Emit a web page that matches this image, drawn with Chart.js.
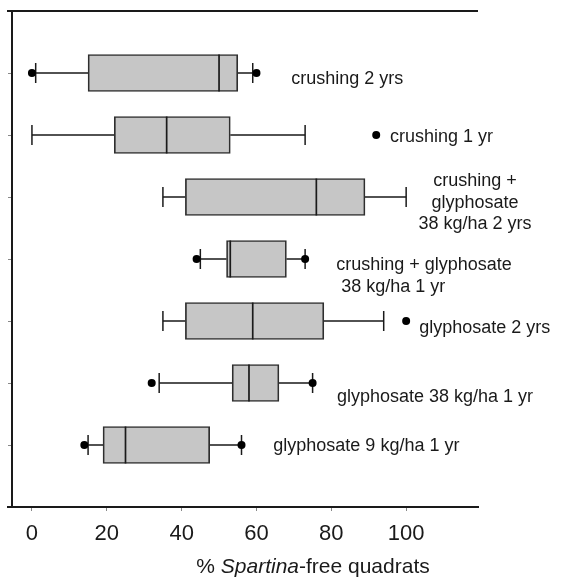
<!DOCTYPE html>
<html>
<head>
<meta charset="utf-8">
<script src="https://cdn.jsdelivr.net/npm/chart.js@4.4.1/dist/chart.umd.min.js"></script>
<style>
  html, body { margin: 0; padding: 0; background: #fff; }
  canvas { display: block; }
</style>
</head>
<body>
<canvas id="boxChart" width="570" height="580"></canvas>
<script>
// treatments, top to bottom (each entry = lines of the side label)
const treatments = [
  ['crushing 2 yrs'],
  ['crushing 1 yr'],
  ['crushing +', 'glyphosate', '38 kg/ha 2 yrs'],
  ['crushing + glyphosate', ' 38 kg/ha 1 yr'],
  ['glyphosate 2 yrs'],
  ['glyphosate 38 kg/ha 1 yr'],
  ['glyphosate 9 kg/ha 1 yr']
];

// % Spartina-free quadrats, five-number summary per treatment
const whiskerLow  = [1, 0, 35, 45, 35, 34, 15];
const quart1      = [15, 22, 41, 52, 41, 53.5, 19];
const medians     = [50, 36, 76, 53, 59, 58, 25];
const quart3      = [55, 53, 89, 68, 78, 66, 47.5];
const whiskerHigh = [59, 73, 100, 73, 94, 75, 56];
const outliers    = [[0, 60], [92], [], [44, 73], [100], [32, 75], [14, 56]];

const xTicks = [0, 20, 40, 60, 80, 100];

// row position on the (reversed) y scale
const rowPos = treatments.map((t, i) => i + 1);

// where each side label sits: x in axis units, first baseline offset in px
const labelLayout = [
  { x: 69.3, dy: 11, align: 'left' },
  { x: 95.7, dy: 7, align: 'left' },
  { x: 118.4, dy: -11, align: 'center' },
  { x: 81.3, dy: 11, align: 'left' },
  { x: 103.5, dy: 12, align: 'left' },
  { x: 81.5, dy: 18.5, align: 'left' },
  { x: 64.5, dy: 6, align: 'left' }
];

const INK = '#1a1a1a';
const FONT = '"Liberation Sans", Arial, sans-serif';

// whisker segments, broken between rows
const whiskerData = [];
rowPos.forEach((y, i) => {
  whiskerData.push({ x: whiskerLow[i], y }, { x: quart1[i], y }, { x: null, y: null });
  whiskerData.push({ x: quart3[i], y }, { x: whiskerHigh[i], y }, { x: null, y: null });
});

const capData = [];
rowPos.forEach((y, i) => {
  capData.push({ x: whiskerLow[i], y }, { x: whiskerHigh[i], y });
});

const outlierData = [];
rowPos.forEach((y, i) => {
  outliers[i].forEach(v => outlierData.push({ x: v, y }));
});

// side labels, frame top line and the mixed-style x title
const decorations = {
  id: 'decorations',
  afterDraw(chart) {
    const { ctx, chartArea, scales } = chart;
    ctx.save();

    ctx.strokeStyle = INK;
    ctx.lineWidth = 2;
    ctx.beginPath();
    ctx.moveTo(chartArea.left - 5, chartArea.top);
    ctx.lineTo(chartArea.right, chartArea.top);
    // bottom axis line runs a little past the left axis
    ctx.moveTo(chartArea.left - 5, chartArea.bottom);
    ctx.lineTo(chartArea.left, chartArea.bottom);
    ctx.stroke();

    ctx.fillStyle = INK;
    ctx.font = '18px ' + FONT;
    ctx.textBaseline = 'alphabetic';
    treatments.forEach((lines, i) => {
      const lay = labelLayout[i];
      const px = scales.x.getPixelForValue(lay.x);
      const py = scales.y.getPixelForValue(rowPos[i]) + lay.dy;
      ctx.textAlign = lay.align;
      lines.forEach((line, k) => ctx.fillText(line, px, py + k * 21.5));
    });

    const parts = [
      { text: '% ', font: '21px ' + FONT },
      { text: 'Spartina', font: 'italic 21px ' + FONT },
      { text: '-free quadrats', font: '21px ' + FONT }
    ];
    let total = 0;
    parts.forEach(p => { ctx.font = p.font; p.w = ctx.measureText(p.text).width; total += p.w; });
    let tx = 313 - total / 2;
    ctx.textAlign = 'left';
    parts.forEach(p => { ctx.font = p.font; ctx.fillText(p.text, tx, 573); tx += p.w; });

    ctx.restore();
  }
};

new Chart(document.getElementById('boxChart'), {
  data: {
    datasets: [
      {
        type: 'bar',
        indexAxis: 'y',
        data: rowPos.map((y, i) => ({ x: [quart1[i], quart3[i]], y })),
        backgroundColor: '#c6c6c6',
        borderColor: '#2e2e2e',
        borderWidth: 1.7,
        borderSkipped: false,
        barThickness: 37,
        grouped: false,
        order: 3
      },
      {
        type: 'line',
        data: whiskerData,
        borderColor: INK,
        borderWidth: 1.5,
        pointRadius: 0,
        spanGaps: false,
        order: 4
      },
      {
        type: 'scatter',
        data: rowPos.map((y, i) => ({ x: medians[i], y })),
        pointStyle: 'line',
        rotation: 90,
        radius: 18.5,
        borderColor: INK,
        borderWidth: 1.7,
        clip: false,
        order: 1
      },
      {
        type: 'scatter',
        data: capData,
        pointStyle: 'line',
        rotation: 90,
        radius: 10,
        borderColor: INK,
        borderWidth: 1.5,
        clip: false,
        order: 2
      },
      {
        type: 'scatter',
        data: outlierData,
        pointStyle: 'circle',
        radius: 4,
        backgroundColor: '#000',
        borderColor: '#000',
        borderWidth: 0,
        clip: false,
        order: 0
      }
    ]
  },
  options: {
    responsive: false,
    animation: false,
    events: [],
    layout: { autoPadding: false, padding: { top: 11, right: 92, bottom: 0, left: 0 } },
    plugins: { legend: { display: false }, tooltip: { enabled: false } },
    scales: {
      x: {
        type: 'linear',
        min: -5.33,
        max: 119.2,
        offset: false,
        afterBuildTicks: s => { s.ticks = xTicks.map(v => ({ value: v })); },
        afterFit: s => { s.height = 73; },
        grid: { offset: false, drawOnChartArea: false, drawTicks: true, tickLength: 4, color: '#888' },
        border: { display: true, color: INK, width: 2 },
        ticks: { color: INK, font: { family: FONT, size: 22 }, padding: 10, maxRotation: 0 }
      },
      y: {
        type: 'linear',
        min: 0,
        max: 8,
        reverse: true,
        offset: false,
        afterBuildTicks: s => { s.ticks = rowPos.map(v => ({ value: v })); },
        afterFit: s => { s.width = 12; },
        grid: { offset: false, drawOnChartArea: false, drawTicks: true, tickLength: 4, color: '#888' },
        border: { display: true, color: INK, width: 2 },
        ticks: { display: false }
      }
    }
  },
  plugins: [decorations]
});
</script>
</body>
</html>
